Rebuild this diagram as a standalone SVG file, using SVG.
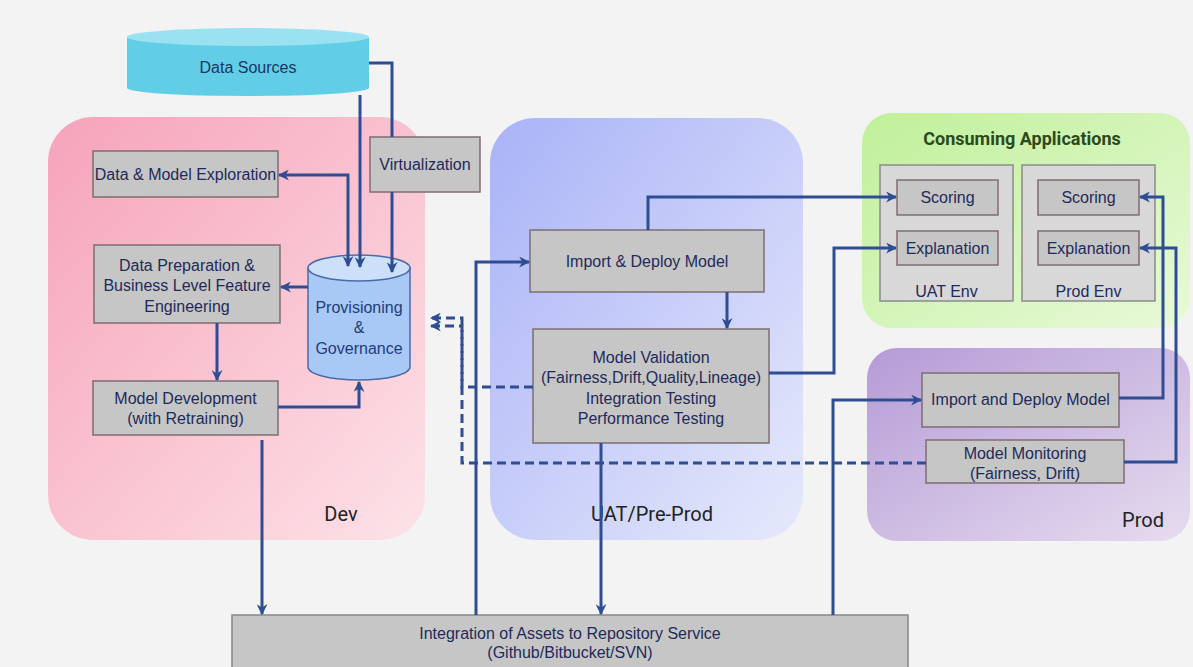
<svg xmlns="http://www.w3.org/2000/svg" width="1193" height="667" viewBox="0 0 1193 667">
<defs>
<linearGradient id="gDev" x1="0" y1="0" x2="1" y2="1"><stop offset="0" stop-color="#f6a3ba"/><stop offset="1" stop-color="#fde2e8"/></linearGradient>
<linearGradient id="gUat" x1="0" y1="0" x2="1" y2="1"><stop offset="0" stop-color="#a9b3f7"/><stop offset="1" stop-color="#e6e9fb"/></linearGradient>
<linearGradient id="gApp" x1="0" y1="0" x2="1" y2="1"><stop offset="0" stop-color="#c0f09a"/><stop offset="1" stop-color="#e8f9d8"/></linearGradient>
<linearGradient id="gProd" x1="0" y1="0" x2="1" y2="1"><stop offset="0" stop-color="#b59bd6"/><stop offset="1" stop-color="#e6dcef"/></linearGradient>
<marker id="ah" viewBox="0 0 10 10" refX="9" refY="5" markerUnits="userSpaceOnUse" markerWidth="11" markerHeight="11" orient="auto-start-reverse"><path d="M0,0 L10,5 L0,10 L3,5 z" fill="#2e4d93"/></marker>
</defs>
<style>
.box{fill:#c6c6c6;stroke:#7d6d72;stroke-width:1.5}
.env{fill:#d8d8d8;stroke:#8a8a8a;stroke-width:1.5}
.t{font-family:"Liberation Sans",Arial,sans-serif;font-size:16px;fill:#1e2a5a;text-anchor:middle}
.rl{font-family:Roboto,"Liberation Sans",sans-serif;font-size:20px;fill:#222;text-anchor:middle}
.c{fill:none;stroke:#2e4d93;stroke-width:3}
.d{fill:none;stroke:#2e4d93;stroke-width:3;stroke-dasharray:9,5}
</style>
<rect width="1193" height="667" fill="#f3f3f3"/>
<g id="regions">
<rect id="dev" x="48" y="117" width="377" height="423" rx="45" fill="url(#gDev)"/>
<rect id="uat" x="490" y="118" width="313" height="422" rx="45" fill="url(#gUat)"/>
<rect id="apps" x="862" y="113" width="328" height="215" rx="30" fill="url(#gApp)"/>
<rect id="prod" x="867" y="348" width="323" height="193" rx="30" fill="url(#gProd)"/>
<text class="rl" x="341" y="521">Dev</text>
<text class="rl" x="652" y="521">UAT/Pre-Prod</text>
<text class="rl" x="1143" y="527">Prod</text>
<text x="1022" y="145" style="font-family:Roboto,'Liberation Sans',sans-serif;font-size:18px;font-weight:bold;fill:#2b4a1b;text-anchor:middle">Consuming Applications</text>
</g>
<g id="data-sources">
<path d="M127,37 V88 A121,8 0 0 0 369,88 V37 z" fill="#62cde6"/>
<ellipse cx="248" cy="37" rx="121" ry="9" fill="#9ae2f2"/>
<text class="t" x="248" y="73" style="fill:#173764">Data Sources</text>
</g>
<g id="virtualization"><rect class="box" x="370" y="137" width="110" height="55"/><text class="t" x="425" y="170">Virtualization</text></g>
<g id="exploration"><rect class="box" x="93" y="151" width="185" height="46"/><text class="t" x="185.5" y="180">Data &amp; Model Exploration</text></g>
<g id="data-prep"><rect class="box" x="94" y="245" width="186" height="78"/><text class="t" x="187" y="271">Data Preparation &amp;</text><text class="t" x="187" y="291">Business Level Feature</text><text class="t" x="187" y="312">Engineering</text></g>
<g id="model-dev"><rect class="box" x="93" y="381" width="185" height="54"/><text class="t" x="185.5" y="404">Model Development</text><text class="t" x="185.5" y="424">(with Retraining)</text></g>
<g id="provisioning">
<path d="M308,268 V367 A51,13 0 0 0 410,367 V268 z" fill="#a8c8f5" stroke="#4a6aa8" stroke-width="1.5"/>
<ellipse cx="359" cy="268" rx="51" ry="13" fill="#cde0fa" stroke="#4a6aa8" stroke-width="1.5"/>
<text class="t" x="359" y="313" style="fill:#1f3d7a">Provisioning</text><text class="t" x="359" y="333" style="fill:#1f3d7a">&amp;</text><text class="t" x="359" y="354" style="fill:#1f3d7a">Governance</text>
</g>
<g id="uat-import"><rect class="box" x="530" y="230" width="234" height="62"/><text class="t" x="647" y="267">Import &amp; Deploy Model</text></g>
<g id="validation"><rect class="box" x="533" y="329" width="236" height="114"/><text class="t" x="651" y="363">Model Validation</text><text class="t" x="651" y="383">(Fairness,Drift,Quality,Lineage)</text><text class="t" x="651" y="404">Integration Testing</text><text class="t" x="651" y="424">Performance Testing</text></g>
<g id="uat-env"><rect class="env" x="880" y="165" width="133" height="136"/><text class="t" x="946.5" y="297">UAT Env</text></g>
<g id="uat-scoring"><rect class="box" x="897" y="180" width="101" height="35"/><text class="t" x="947.5" y="203">Scoring</text></g>
<g id="uat-explanation"><rect class="box" x="897" y="231" width="101" height="34"/><text class="t" x="947.5" y="254">Explanation</text></g>
<g id="prod-env"><rect class="env" x="1022" y="165" width="133" height="136"/><text class="t" x="1088.5" y="297">Prod Env</text></g>
<g id="prod-scoring"><rect class="box" x="1038" y="180" width="101" height="35"/><text class="t" x="1088.5" y="203">Scoring</text></g>
<g id="prod-explanation"><rect class="box" x="1038" y="231" width="101" height="34"/><text class="t" x="1088.5" y="254">Explanation</text></g>
<g id="prod-import"><rect class="box" x="922" y="373" width="197" height="54"/><text class="t" x="1020.5" y="405">Import and Deploy Model</text></g>
<g id="monitoring"><rect class="box" x="926" y="440" width="198" height="43"/><text class="t" x="1025" y="459">Model Monitoring</text><text class="t" x="1025" y="479">(Fairness, Drift)</text></g>
<g id="repository"><rect class="box" x="232" y="615" width="676" height="60" style="stroke:#888"/><text class="t" x="570" y="639">Integration of Assets to Repository Service</text><text class="t" x="570" y="658">(Github/Bitbucket/SVN)</text></g>
<g id="connectors">
<path class="c" d="M360,95 V267" marker-end="url(#ah)"/>
<path class="c" d="M369,63 H392 V137"/>
<path class="c" d="M392,192 V272" marker-end="url(#ah)"/>
<path class="c" d="M348,266 V175 H279" marker-start="url(#ah)" marker-end="url(#ah)"/>
<path class="c" d="M308,287 H281" marker-end="url(#ah)"/>
<path class="c" d="M217,323 V380" marker-end="url(#ah)"/>
<path class="c" d="M278,407 H359 V382" marker-end="url(#ah)"/>
<path class="c" d="M262,440 V614" marker-end="url(#ah)"/>
<path class="c" d="M476,615 V262 H529" marker-end="url(#ah)"/>
<path class="c" d="M648,230 V197 H896" marker-end="url(#ah)"/>
<path class="c" d="M727,292 V328" marker-end="url(#ah)"/>
<path class="c" d="M769,373 H834 V248 H896" marker-end="url(#ah)"/>
<path class="c" d="M601,443 V614" marker-end="url(#ah)"/>
<path class="c" d="M833,615 V400 H921" marker-end="url(#ah)"/>
<path class="c" d="M1119,398 H1163 V197 H1140" marker-end="url(#ah)"/>
<path class="c" d="M1124,462 H1176 V248 H1140" marker-end="url(#ah)"/>
<path class="d" d="M926,463 H462 V318 H431" marker-end="url(#ah)"/>
<path class="d" d="M533,387 H462 V326 H431" marker-end="url(#ah)"/>
</g>
</svg>
